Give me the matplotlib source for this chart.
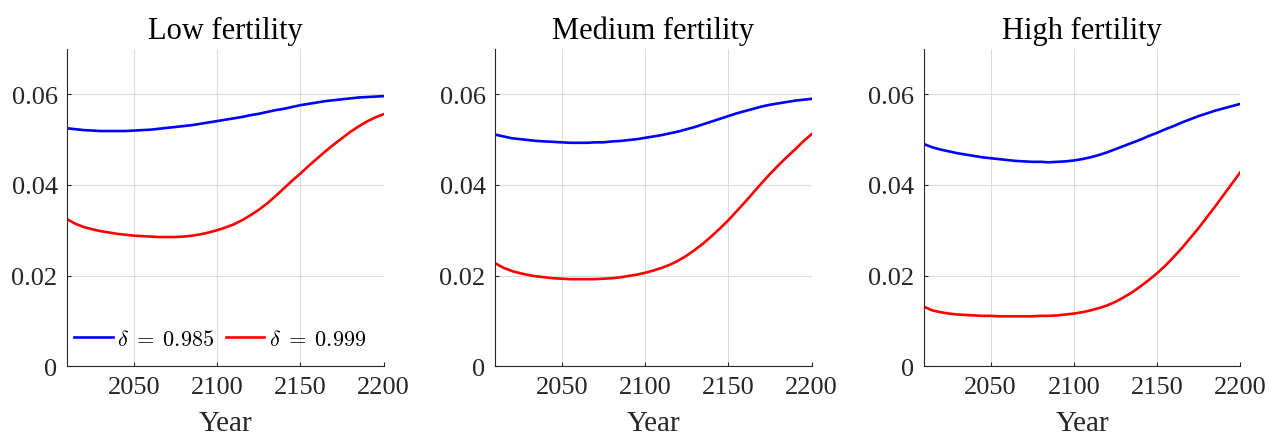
import numpy as np
import matplotlib
matplotlib.use("Agg")
import matplotlib.pyplot as plt

# values, every 5 years
years = list(range(2010, 2201, 5))

low_985 = [0.0525, 0.0523, 0.0521, 0.0520, 0.0519, 0.0519, 0.0519, 0.0519, 0.0520, 0.0521,
           0.0522, 0.0524, 0.0526, 0.0528, 0.0530, 0.0532, 0.0535, 0.0538, 0.0541, 0.0544,
           0.0547, 0.0550, 0.0554, 0.0557, 0.0561, 0.0565, 0.0568, 0.0572, 0.0576, 0.0579,
           0.0582, 0.0585, 0.0587, 0.0589, 0.0591, 0.0593, 0.0594, 0.0595, 0.0596]
low_999 = [0.0324, 0.0314, 0.0307, 0.0302, 0.0298, 0.0295, 0.0292, 0.0290, 0.0288, 0.0287,
           0.0286, 0.0285, 0.0285, 0.0285, 0.0286, 0.0288, 0.0291, 0.0295, 0.0300, 0.0306,
           0.0313, 0.0322, 0.0333, 0.0345, 0.0359, 0.0375, 0.0392, 0.0409, 0.0425, 0.0442,
           0.0458, 0.0474, 0.0489, 0.0503, 0.0517, 0.0529, 0.0540, 0.0549, 0.0556]

med_985 = [0.0511, 0.0507, 0.0503, 0.0501, 0.0499, 0.0497, 0.0496, 0.0495, 0.0494, 0.0493,
           0.0493, 0.0493, 0.0494, 0.0494, 0.0496, 0.0497, 0.0499, 0.0501, 0.0504, 0.0507,
           0.0510, 0.0514, 0.0518, 0.0523, 0.0528, 0.0534, 0.0540, 0.0546, 0.0552, 0.0558,
           0.0563, 0.0568, 0.0573, 0.0577, 0.0580, 0.0583, 0.0586, 0.0588, 0.0590]
med_999 = [0.0227, 0.0217, 0.0210, 0.0205, 0.0201, 0.0198, 0.0196, 0.0194, 0.0193, 0.0192,
           0.0192, 0.0192, 0.0192, 0.0193, 0.0194, 0.0196, 0.0199, 0.0202, 0.0206, 0.0211,
           0.0217, 0.0224, 0.0233, 0.0244, 0.0257, 0.0271, 0.0287, 0.0304, 0.0322, 0.0342,
           0.0362, 0.0383, 0.0404, 0.0424, 0.0443, 0.0461, 0.0478, 0.0496, 0.0512]

high_985 = [0.0490, 0.0483, 0.0478, 0.0474, 0.0470, 0.0467, 0.0464, 0.0461, 0.0459, 0.0457,
            0.0455, 0.0453, 0.0452, 0.0451, 0.0451, 0.0450, 0.0451, 0.0452, 0.0454, 0.0457,
            0.0461, 0.0466, 0.0472, 0.0479, 0.0486, 0.0493, 0.0500, 0.0508, 0.0515, 0.0523,
            0.0530, 0.0538, 0.0545, 0.0552, 0.0558, 0.0564, 0.0569, 0.0574, 0.0579]
high_999 = [0.0131, 0.0123, 0.0119, 0.0116, 0.0114, 0.0113, 0.0112, 0.0111, 0.0111, 0.0110,
            0.0110, 0.0110, 0.0110, 0.0110, 0.0111, 0.0111, 0.0112, 0.0114, 0.0116, 0.0119,
            0.0123, 0.0128, 0.0134, 0.0142, 0.0152, 0.0163, 0.0176, 0.0190, 0.0205, 0.0222,
            0.0241, 0.0261, 0.0283, 0.0305, 0.0329, 0.0353, 0.0378, 0.0403, 0.0428]

titles = ["Low fertility", "Medium fertility", "High fertility"]
series = [(low_985, low_999), (med_985, med_999), (high_985, high_999)]
labels = [r"$\delta \;=\; 0.985$", r"$\delta \;=\; 0.999$"]

plt.rcParams["font.family"] = ["Liberation Serif", "DejaVu Serif"]
plt.rcParams["mathtext.fontset"] = "cm"

fig = plt.figure(figsize=(12.7, 4.35), dpi=100)
lefts = [0.053, 0.390, 0.7276]
ink = "#262626"

for i, (title, (s1, s2)) in enumerate(zip(titles, series)):
    ax = fig.add_axes([lefts[i], 0.156, 0.249, 0.729])
    ax.plot(years, s1, color="#0000ff", lw=1.9, label=labels[0])
    ax.plot(years, s2, color="#ff0000", lw=1.9, label=labels[1])
    ax.set_xlim(2010, 2200)
    ax.set_ylim(0, 0.07)
    ax.set_xticks([2050, 2100, 2150, 2200])
    ax.set_yticks([0, 0.02, 0.04, 0.06])
    ax.set_yticklabels(["0", "0.02", "0.04", "0.06"])
    ax.grid(True, color="#dcdcdc", lw=0.8)
    ax.set_axisbelow(True)
    for side in ["top", "right"]:
        ax.spines[side].set_visible(False)
    for side in ["left", "bottom"]:
        ax.spines[side].set_color(ink)
        ax.spines[side].set_linewidth(0.8)
    ax.tick_params(direction="in", length=3, colors=ink, labelsize=19, pad=7)
    ax.set_title(title, fontsize=22, pad=8)
    ax.set_xlabel("Year", fontsize=21, color=ink, labelpad=9)
    if i == 0:
        ax.legend(loc="lower left", bbox_to_anchor=(-0.018, 0.012), ncol=2, frameon=False,
                  fontsize=16, handlelength=1.75, handletextpad=0.2, columnspacing=0.5,
                  borderaxespad=0.15, borderpad=0.4)

fig.savefig("out.png", dpi=100)
